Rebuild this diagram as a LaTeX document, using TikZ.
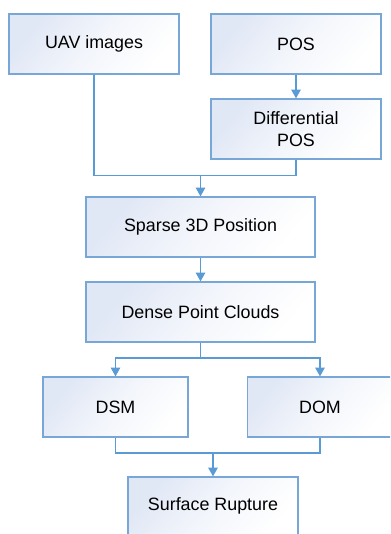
\documentclass[tikz,border=0pt]{standalone}
\usepackage{fontspec}
\setmainfont{Liberation Sans}
\usetikzlibrary{arrows.meta}
\definecolor{boxline}{RGB}{120,166,214}
\definecolor{arrowline}{RGB}{91,155,213}
\definecolor{boxfill}{RGB}{224,231,245}
\tikzset{
  flowbox/.style={draw=boxline, line width=0.9pt, shading=axis, top color=boxfill, bottom color=white, middle color=boxfill!40!white, shading angle=50,
    inner sep=0pt, align=center, font=\fontsize{13.4pt}{16pt}\selectfont, text=black},
  conn/.style={draw=arrowline, line width=0.9pt},
  arr/.style={conn, -{Triangle[width=7pt,length=6.5pt]}}
}
\begin{document}
\begin{tikzpicture}[x=0.75pt,y=-0.75pt]
\useasboundingbox (0,0) rectangle (390,534);
\clip (0,0) rectangle (390,534);
\node[flowbox, minimum width=127.5pt, minimum height=45pt] (uav) at (94,44) {UAV images};
\node[flowbox, minimum width=127.5pt, minimum height=45pt] (pos) at (296,44) {POS};
\node[flowbox, minimum width=127.5pt, minimum height=45pt] (dpos) at (296,129) {Differential\\POS};
\node[flowbox, minimum width=171.75pt, minimum height=45pt] (sparse) at (200.5,227) {Sparse 3D Position};
\node[flowbox, minimum width=171.75pt, minimum height=45pt] (dense) at (200.5,312) {Dense Point Clouds};
\node[flowbox, minimum width=108.75pt, minimum height=45pt] (dsm) at (115.5,407) {DSM};
\node[flowbox, minimum width=108.75pt, minimum height=45pt] (dom) at (320,407) {DOM};
\node[flowbox, minimum width=127.5pt, minimum height=45pt] (sr) at (213,507) {};
\node[font=\fontsize{13.4pt}{16pt}\selectfont] (srtext) at (213,506) {Surface Rupture};
\coordinate (j1) at (200.5,175.5);
\coordinate (j2) at (200.5,358);
\coordinate (j3) at (213,453);
\draw[arr] (pos.south) -- (dpos.north);
\draw[conn] (uav.south) -- (uav.south |- j1) -- (dpos.south |- j1) -- (dpos.south);
\draw[arr] (j1) -- (sparse.north);
\draw[arr] (sparse.south) -- (dense.north);
\draw[conn] (dense.south) -- (j2);
\draw[arr] (j2) -- (dsm.north |- j2) -- (dsm.north);
\draw[arr] (j2) -- (dom.north |- j2) -- (dom.north);
\draw[conn] (dsm.south) -- (dsm.south |- j3) -- (dom.south |- j3) -- (dom.south);
\draw[arr] (j3) -- (sr.north);
\end{tikzpicture}
\end{document}
